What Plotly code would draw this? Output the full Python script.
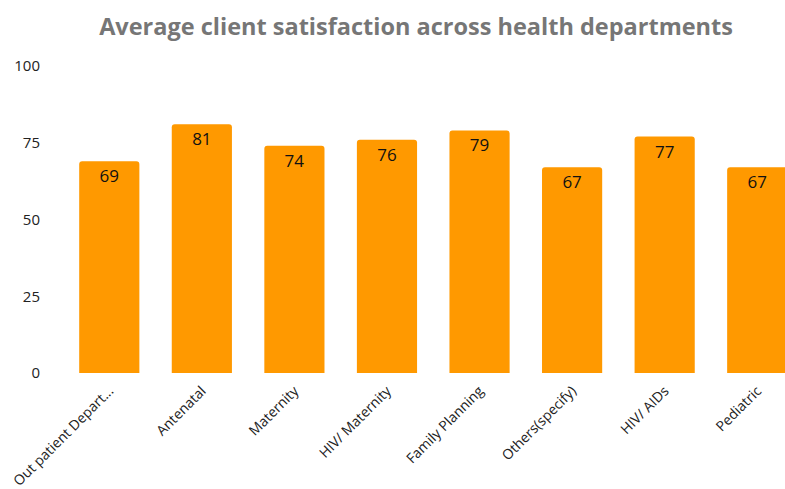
import plotly.graph_objects as go

departments = ["Out patient Depart...", "Antenatal", "Maternity", "HIV/ Maternity",
               "Family Planning", "Others(specify)", "HIV/ AIDs", "Pediatric"]
satisfaction = [69, 81, 74, 76, 79, 67, 77, 67]
y_ticks = [0, 25, 50, 75, 100]

BAR_COLOR = "#FF9900"
FONT = "Open Sans"

fig = go.Figure(
    go.Bar(
        x=departments,
        y=satisfaction,
        marker=dict(color=BAR_COLOR, line=dict(width=0), cornerradius=3),
        text=[str(v) for v in satisfaction],
        textposition="inside",
        insidetextanchor="end",
        textangle=0,
        textfont=dict(family=FONT, size=17, color="#111111"),
        hoverinfo="x+y",
    )
)

fig.update_layout(
    width=785,
    height=489,
    margin=dict(l=63, r=0, t=66, b=116),
    paper_bgcolor="white",
    plot_bgcolor="white",
    bargap=0.35,
    showlegend=False,
    title=dict(
        text="<b>Average client satisfaction across health departments</b>",
        font=dict(family=FONT, size=23.5, color="#767676"),
        x=0.53,
        xanchor="center",
        y=0.945,
        yanchor="middle",
    ),
    xaxis=dict(
        range=[-0.5, 7.3],
        tickangle=-45,
        tickfont=dict(family=FONT, size=14, color="#222222"),
        showgrid=False,
        showline=False,
        zeroline=False,
        ticks="",
        ticklabelstandoff=6,
        automargin=False,
    ),
    yaxis=dict(
        range=[0, 100],
        tickvals=y_ticks,
        tickfont=dict(family=FONT, size=15, color="#222222"),
        showgrid=False,
        showline=False,
        zeroline=False,
        ticks="",
        ticklabelstandoff=22,
        automargin=False,
    ),
)

fig.write_html("out.html")
